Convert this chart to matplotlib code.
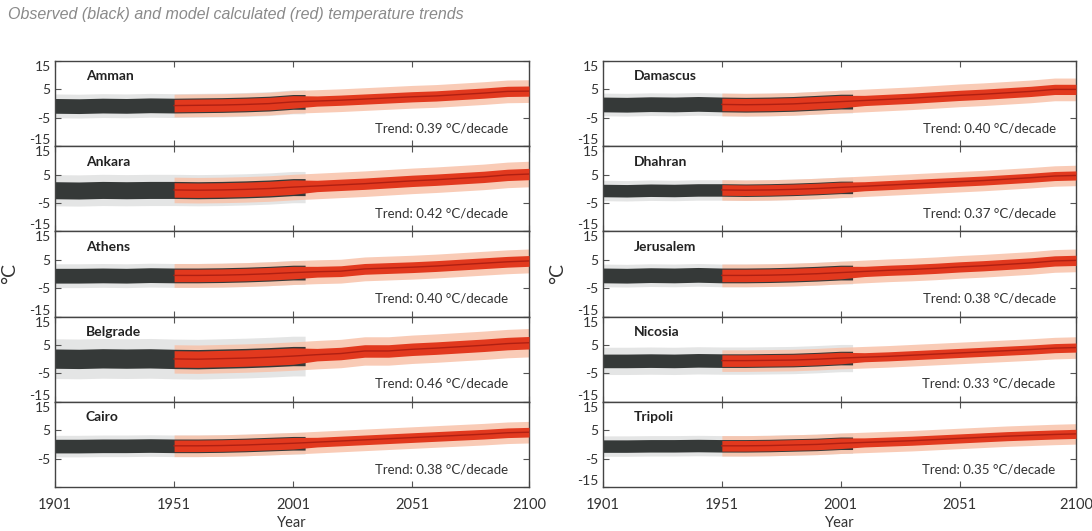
import matplotlib.pyplot as plt
import numpy as np

# anchor years for the values
years = [1901, 1911, 1921, 1931, 1941, 1951, 1961, 1971, 1981, 1991, 2001,
         2011, 2021, 2031, 2041, 2051, 2061, 2071, 2081, 2091, 2100]
obs_last_year = 2006
model_first_year = 1951

left_names = ['Amman', 'Ankara', 'Athens', 'Belgrade', 'Cairo']
right_names = ['Damascus', 'Dhahran', 'Jerusalem', 'Nicosia', 'Tripoli']
left_trends = ['0.39', '0.42', '0.40', '0.46', '0.38']
right_trends = ['0.40', '0.37', '0.38', '0.33', '0.35']

# running mean of the anomaly (degC) at the anchor years
amman     = [-0.8, -0.9, -0.7, -0.8, -0.6, -0.7, -0.6, -0.5, -0.3, 0.0, 0.6, 0.9, 1.2, 1.6, 2.0, 2.4, 2.7, 3.2, 3.7, 4.3, 4.4]
ankara    = [-0.5, -0.6, -0.4, -0.5, -0.4, -0.4, -0.5, -0.4, -0.2, 0.1, 0.6, 1.0, 1.4, 1.8, 2.3, 2.8, 3.2, 3.7, 4.2, 4.9, 5.2]
athens    = [-0.6, -0.6, -0.5, -0.6, -0.4, -0.5, -0.5, -0.4, -0.2, 0.1, 0.5, 0.8, 1.0, 1.8, 2.1, 2.4, 2.8, 3.3, 3.8, 4.3, 4.6]
belgrade  = [0.2, 0.1, 0.3, 0.2, 0.3, 0.1, 0.0, 0.2, 0.4, 0.7, 1.1, 1.6, 2.0, 2.9, 2.9, 3.5, 3.9, 4.4, 4.9, 5.5, 5.8]
cairo     = [-0.6, -0.6, -0.5, -0.5, -0.4, -0.5, -0.5, -0.4, -0.2, 0.1, 0.4, 0.8, 1.2, 1.6, 2.0, 2.4, 2.8, 3.2, 3.6, 4.1, 4.3]
damascus  = [-0.3, -0.4, -0.2, -0.3, -0.1, -0.3, -0.4, -0.3, -0.1, 0.3, 0.7, 1.1, 1.5, 1.9, 2.4, 2.9, 3.3, 3.8, 4.3, 5.0, 5.0]
dhahran   = [-0.6, -0.7, -0.5, -0.6, -0.4, -0.4, -0.5, -0.4, -0.2, 0.1, 0.5, 0.9, 1.3, 1.7, 2.1, 2.5, 2.9, 3.4, 3.9, 4.5, 4.7]
jerusalem = [-0.5, -0.6, -0.4, -0.5, -0.3, -0.5, -0.5, -0.4, -0.2, 0.1, 0.5, 0.9, 1.3, 1.6, 2.0, 2.5, 2.9, 3.4, 3.9, 4.6, 4.8]
nicosia   = [-0.6, -0.6, -0.5, -0.6, -0.4, -0.5, -0.5, -0.4, -0.3, 0.0, 0.4, 0.7, 1.0, 1.4, 1.8, 2.2, 2.6, 3.0, 3.4, 3.9, 4.1]
tripoli   = [-0.6, -0.6, -0.5, -0.5, -0.4, -0.5, -0.5, -0.4, -0.2, 0.0, 0.4, 0.7, 1.0, 1.3, 1.7, 2.1, 2.5, 2.9, 3.2, 3.5, 3.7]
left_means = [amman, ankara, athens, belgrade, cairo]
right_means = [damascus, dhahran, jerusalem, nicosia, tripoli]

# half width of the dense observed cloud and of its scattered outliers
left_obs_core = [2.6, 3.0, 2.6, 3.4, 2.4]
right_obs_core = [2.6, 2.2, 2.6, 2.4, 2.2]
left_obs_outer = [4.2, 5.5, 4.2, 7.0, 3.8]
right_obs_outer = [4.0, 3.6, 4.0, 4.8, 3.6]
# half width of the dense model cloud and of its orange halo
left_model_core = [1.8, 2.0, 1.9, 2.2, 1.7]
right_model_core = [1.8, 1.6, 1.8, 1.6, 1.6]
left_model_outer = [4.0, 4.5, 4.2, 5.0, 3.8]
right_model_outer = [4.0, 3.6, 4.0, 3.8, 3.6]

BLACK = '#353938'
RED = '#e2391e'
ORANGE = '#f8c2aa'
LINE = '#b01f12'
TXT = '#333333'

plt.rcParams['font.family'] = ['Lato', 'DejaVu Sans']

fig = plt.figure(figsize=(10.92, 5.31), dpi=100)
W, H = 1092.0, 531.0
top = 1 - 61 / H
bottom = 1 - 487 / H
gs_left = fig.add_gridspec(5, 1, left=55 / W, right=529 / W, top=top, bottom=bottom, hspace=0)
gs_right = fig.add_gridspec(5, 1, left=603 / W, right=1076 / W, top=top, bottom=bottom, hspace=0)


def draw_panel(ax, name, trend, mean, obs_core, obs_outer, mod_core, mod_outer, last, show_bottom_15):
    yr = np.array(years, dtype=float)
    m = np.array(mean)
    i_obs = years.index(2001)
    i_mod = years.index(model_first_year)
    xo = np.append(yr[:i_obs + 1], obs_last_year)
    mo = np.append(m[:i_obs + 1], m[i_obs])
    xm = yr[i_mod:]
    mm = m[i_mod:]
    # observed outliers and model halo
    ax.fill_between(xo, mo - obs_outer, mo + obs_outer, color=BLACK, lw=0, alpha=0.13, zorder=1)
    ax.fill_between(xm, mm - mod_outer, mm + mod_outer, color=ORANGE, lw=0, alpha=0.85, zorder=1.5)
    ax.fill_between(xo, mo - obs_core, mo + obs_core, color=BLACK, lw=0, zorder=2)
    # dense model cloud: wide during the observed period, narrower afterwards
    core = np.where(xm <= obs_last_year, obs_core * 0.85, mod_core)
    ax.fill_between(xm, mm - core, mm + core, color=RED, lw=0, zorder=3)
    ax.plot(xm, mm, color=LINE, lw=1.0, zorder=4)

    ax.set_xlim(1901, 2100)
    ax.set_ylim(-15, 15)
    ax.set_yticks([15, 5, -5, -15])
    ax.set_yticklabels(['15', '5', '-5', '-15' if show_bottom_15 else ''])
    ax.set_xticks([1901, 1951, 2001, 2051, 2100])
    ax.tick_params(direction='in', top=True, right=True, length=4, width=0.8,
                   labelsize=10, labelcolor=TXT, color='#555555')
    ax.tick_params(axis='y', pad=3)
    ax.tick_params(axis='x', pad=8, labelsize=10.5)
    labels = ax.get_yticklabels()
    labels[0].set_va('top')
    labels[3].set_va('bottom')
    if last:
        ax.set_xticklabels(['1901', '1951', '2001', '2051', '2100'])
        ax.set_xlabel('Year', fontsize=10.5, color=TXT, labelpad=3)
    else:
        ax.set_xticklabels([])
    for s in ax.spines.values():
        s.set_color('#444444')
        s.set_linewidth(1.0)
    ax.text(0.065, 0.82, name, transform=ax.transAxes, fontsize=10, fontweight='bold',
            color='#222222', va='center', ha='left')
    ax.text(0.957, 0.21, 'Trend: ' + trend + ' \u00b0C/decade', transform=ax.transAxes,
            fontsize=9.5, color=TXT, va='center', ha='right')


for i in range(5):
    ax = fig.add_subplot(gs_left[i])
    draw_panel(ax, left_names[i], left_trends[i], left_means[i], left_obs_core[i],
               left_obs_outer[i], left_model_core[i], left_model_outer[i], i == 4, i != 4)
    if i == 2:
        ax.set_ylabel('\u00b0C', fontsize=14, color=TXT, labelpad=8)
    ax = fig.add_subplot(gs_right[i])
    draw_panel(ax, right_names[i], right_trends[i], right_means[i], right_obs_core[i],
               right_obs_outer[i], right_model_core[i], right_model_outer[i], i == 4, True)
    if i == 2:
        ax.set_ylabel('\u00b0C', fontsize=14, color=TXT, labelpad=8)

fig.text(8 / W, 1 - 15 / H, 'Observed (black) and model calculated (red) temperature trends',
         family=['Liberation Sans', 'DejaVu Sans'], style='italic', fontsize=11.5,
         color='#8a8a8a', va='center', ha='left')

fig.savefig('out.png', dpi=100)
